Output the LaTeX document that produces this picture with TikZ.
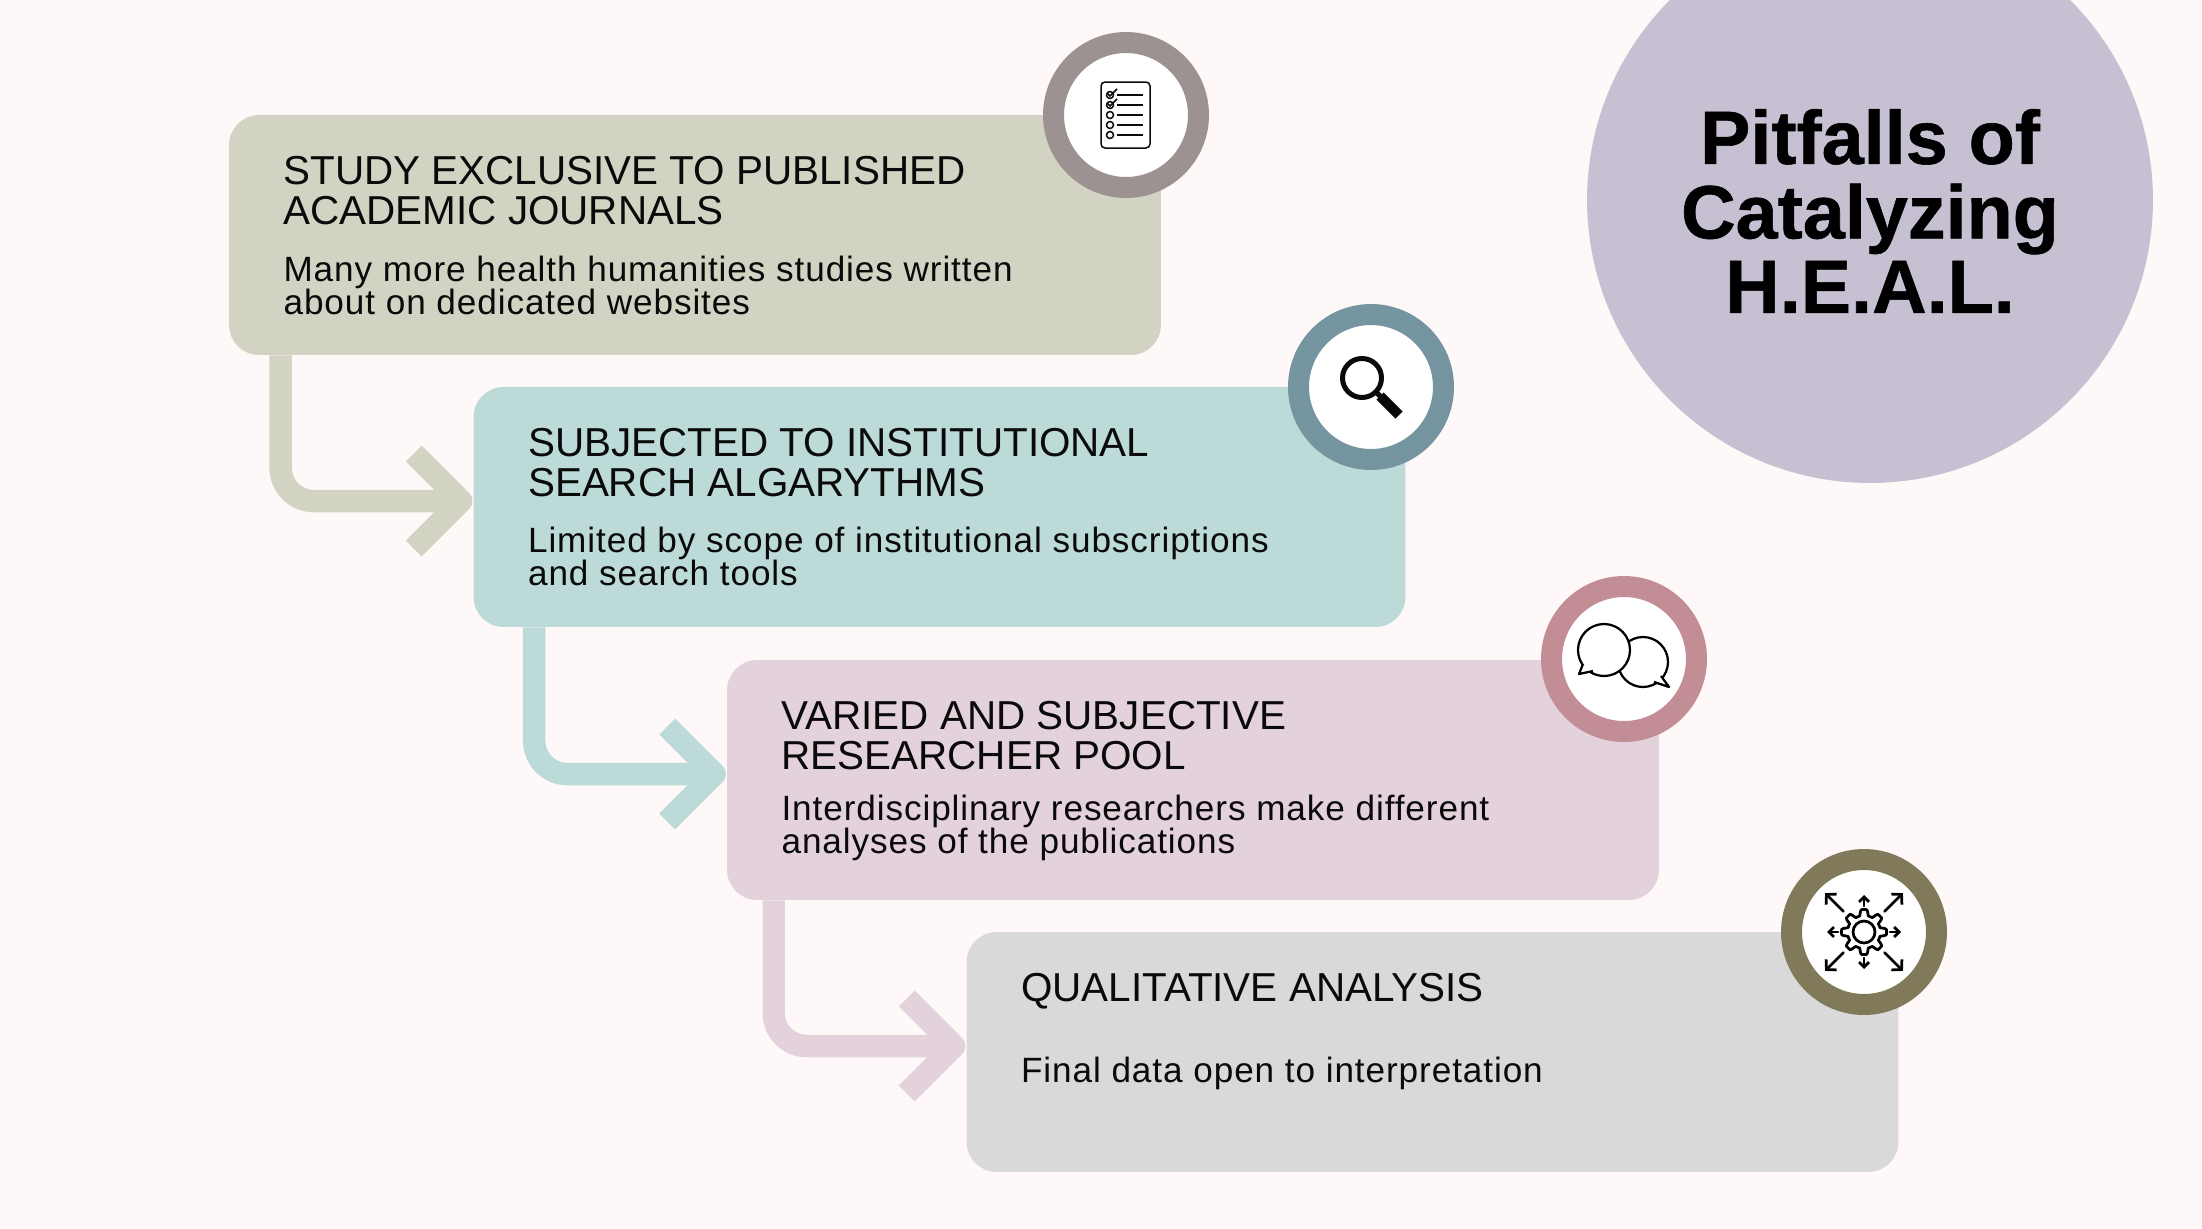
\documentclass[tikz,border=0pt]{standalone}
\usepackage{fontspec}
\setmainfont{Liberation Sans}
\newfontfamily\bodyfont[LetterSpace=2.6]{Liberation Sans}
\newfontfamily\titlefont[BoldFeatures={FakeBold=0.8}]{Liberation Sans}
\usetikzlibrary{positioning,calc,arrows.meta}

\definecolor{pagecol}{HTML}{FFF8F8}
\definecolor{card1}{HTML}{D3D3C3}
\definecolor{card2}{HTML}{BCDAD8}
\definecolor{card3}{HTML}{E3D1DC}
\definecolor{card4}{HTML}{D9D9D9}
\definecolor{ring1}{HTML}{9B9291}
\definecolor{ring2}{HTML}{74949F}
\definecolor{ring3}{HTML}{C38D96}
\definecolor{ring4}{HTML}{817A5A}
\definecolor{badgecol}{HTML}{C6C0D2}
\definecolor{inkcol}{HTML}{0A0A0A}

\tikzset{
    card/.style={minimum width=18.64cm, minimum height=4.8cm, inner sep=0pt, rounded corners=0.6cm},
    ringicon/.style={circle, fill=white, draw=#1, line width=0.42cm, minimum size=2.9cm, inner sep=0pt},
    headtext/.style={anchor=north west, align=left, inner sep=0pt, text=inkcol, font=\fontsize{23}{22.8}\selectfont},
    bodytext/.style={anchor=north west, align=left, inner sep=0pt, text=inkcol, font=\bodyfont\fontsize{20}{19.1}\selectfont},
    flowline/.style={line width=0.45cm},
    iconline/.style={inkcol, line width=0.03cm},
    gearline/.style={black, line width=0.055cm, line cap=round, line join=round}
}

\begin{document}
\begin{tikzpicture}[x=0.02cm,y=-0.02cm]
    \useasboundingbox (0,0) rectangle (2202,1228);
    \clip (0,0) rectangle (2202,1228);
    \fill[pagecol] (0,0) rectangle (2202,1228);

    \node[circle, fill=badgecol, minimum size=11.32cm, inner sep=0pt] (badge) at (1870,200) {};
    \node[align=center, text=black, font=\titlefont\bfseries\fontsize{43}{42.4}\selectfont] (title) at (1870,211) {Pitfalls of\\Catalyzing\\H.E.A.L.};

    \foreach \n/\x/\y/\head/\body/\gap in {
        1/695/235/{STUDY EXCLUSIVE TO PUBLISHED\\ACADEMIC JOURNALS}/{Many more health humanities studies written\\about on dedicated websites}/0.6,
        2/939.5/507/{SUBJECTED TO INSTITUTIONAL\\SEARCH ALGARYTHMS}/{Limited by scope of institutional subscriptions\\and search tools}/0.58,
        3/1193/780/{VARIED AND SUBJECTIVE\\RESEARCHER POOL}/{Interdisciplinary researchers make different\\analyses of the publications}/0.48,
        4/1432.5/1052/{QUALITATIVE ANALYSIS}/{Final data open to interpretation}/0.93} {
        \node[card, fill=card\n] (box\n) at (\x,\y) {};
        \node[headtext] (head\n) at ($(box\n.north west)+(54.5,41.5)$) {\head};
        \node[bodytext, below=\gap cm of head\n.south west, anchor=north west] (text\n) {\body};
    }

    \foreach \a/\b/\off/\col in {1/2/52/card1, 2/3/61/card2, 3/4/47/card3} {
        \draw[flowline, \col, rounded corners=0.66cm] ($(box\a.south west)+(\off,0)$) |- ($(box\b.west)+(-12,-6)$);
        \draw[flowline, \col, line join=round] ($(box\b.west)+(-59.5,-53.5)$) -- ($(box\b.west)+(-12,-6)$) -- ($(box\b.west)+(-59.5,41.5)$);
    }

    \node[ringicon=ring1] (icon1) at (1126,115) {};
    \node[ringicon=ring2] (icon2) at (1371,387) {};
    \node[ringicon=ring3] (icon3) at (1624,659) {};
    \node[ringicon=ring4] (icon4) at (1864,932) {};

    \begin{scope}[shift={(icon1.center)}]
        \draw[iconline, rounded corners=0.08cm] (-25,-33) rectangle (24,33);
        \foreach \v in {-20,-10,0,10,20} {
            \draw[iconline] (-9,\v) -- (17,\v);
            \draw[iconline] (-16,\v) circle (3.5);
        }
        \draw[iconline] (-19,-22) -- (-16,-19) -- (-9,-26);
        \draw[iconline] (-19,-12) -- (-16,-9) -- (-9,-16);
    \end{scope}

    \begin{scope}[shift={(icon2.center)}]
        \draw[inkcol, line width=0.1cm] (-9,-9) circle (19.5);
        \draw[inkcol, line width=0.1cm] (5,5) -- (12,12);
        \draw[inkcol, line width=0.2cm] (9,9) -- (28,28);
    \end{scope}

    \begin{scope}[shift={(icon3.center)}, line width=0.045cm, black, line join=round]
        \draw[fill=white] (19,3) circle (25);
        \fill[white] (37,17) -- (45,28) -- (30,23) -- cycle;
        \draw (37,17) -- (45,28) -- (30,23);
        \draw[fill=white] (-20,-9) circle (26);
        \fill[white] (-41,5) -- (-45,15) -- (-31,12) -- cycle;
        \draw (-41,5) -- (-45,15) -- (-31,12);
    \end{scope}

    \begin{scope}[shift={(icon4.center)}]
        \draw[gearline] (0,0) circle (11);
        \draw[gearline] plot[domain=0:360, samples=161] ({(19.5+3*max(-1,min(1,2*cos(8*\x))))*cos(\x)}, {(19.5+3*max(-1,min(1,2*cos(8*\x))))*sin(\x)}) -- cycle;
        \foreach \ang in {45,135,225,315} {
            \draw[gearline, -{Straight Barb[length=0.14cm, width=0.3cm]}] (\ang:29) -- (\ang:55);
        }
        \foreach \ang in {0,90,180,270} {
            \draw[gearline, -{Straight Barb[length=0.1cm, width=0.2cm]}] (\ang:26) -- (\ang:37);
        }
    \end{scope}
\end{tikzpicture}
\end{document}
